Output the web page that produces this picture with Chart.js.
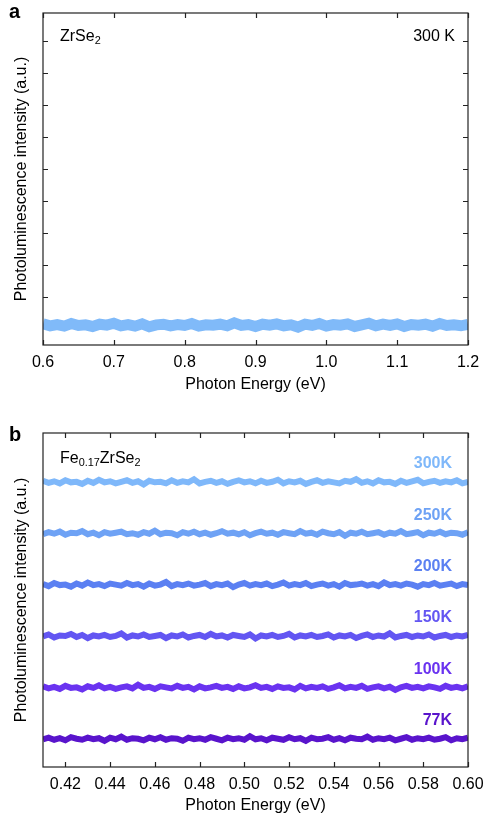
<!DOCTYPE html>
<html lang="en">
<head>
  <meta charset="UTF-8" />
  <title>Photoluminescence of ZrSe2 and Fe0.17ZrSe2</title>
  <script src="https://cdn.jsdelivr.net/npm/chart.js@4.4.1/dist/chart.umd.min.js"></script>
  <style>
    body { margin: 0; background: #fff; }
    #wrap { position: relative; width: 483px; height: 816px; }
    canvas { position: absolute; left: 0; }
    #panel-a { top: 0; }
    #panel-b { top: 416px; }
  </style>
</head>
<body>
  <div id="wrap">
    <canvas id="panel-a" width="483" height="400"></canvas>
    <canvas id="panel-b" width="483" height="400"></canvas>
  </div>

  <script>
    // panel a : ZrSe2 at 300 K
    const energyA = [
      0.60,0.61,0.62,0.63,0.64,0.65,0.66,0.67,0.68,0.69,
      0.70,0.71,0.72,0.73,0.74,0.75,0.76,0.77,0.78,0.79,
      0.80,0.81,0.82,0.83,0.84,0.85,0.86,0.87,0.88,0.89,
      0.90,0.91,0.92,0.93,0.94,0.95,0.96,0.97,0.98,0.99,
      1.00,1.01,1.02,1.03,1.04,1.05,1.06,1.07,1.08,1.09,
      1.10,1.11,1.12,1.13,1.14,1.15,1.16,1.17,1.18,1.19,
      1.20
    ];
    const plZrSe2 = [
      0.66,0.60,0.64,0.59,0.67,0.61,0.63,0.58,0.65,0.62,
      0.68,0.60,0.64,0.59,0.66,0.57,0.63,0.65,0.60,0.64,
      0.61,0.67,0.59,0.63,0.62,0.65,0.60,0.69,0.61,0.64,
      0.58,0.65,0.62,0.66,0.60,0.63,0.56,0.65,0.61,0.67,
      0.59,0.64,0.62,0.66,0.58,0.63,0.68,0.60,0.65,0.61,
      0.66,0.58,0.64,0.62,0.65,0.59,0.67,0.61,0.63,0.60,
      0.64
    ];
    const xTicksA = [0.6, 0.7, 0.8, 0.9, 1.0, 1.1, 1.2];
    const yTicksA = [1.5, 2.5, 3.5, 4.5, 5.5, 6.5, 7.5, 8.5, 9.5];

    // panel b : Fe0.17ZrSe2, curves offset per temperature
    const energyB = [
      0.4100,0.4125,0.4150,0.4175,0.4200,0.4225,0.4250,0.4275,0.4300,0.4325,
      0.4350,0.4375,0.4400,0.4425,0.4450,0.4475,0.4500,0.4525,0.4550,0.4575,
      0.4600,0.4625,0.4650,0.4675,0.4700,0.4725,0.4750,0.4775,0.4800,0.4825,
      0.4850,0.4875,0.4900,0.4925,0.4950,0.4975,0.5000,0.5025,0.5050,0.5075,
      0.5100,0.5125,0.5150,0.5175,0.5200,0.5225,0.5250,0.5275,0.5300,0.5325,
      0.5350,0.5375,0.5400,0.5425,0.5450,0.5475,0.5500,0.5525,0.5550,0.5575,
      0.5600,0.5625,0.5650,0.5675,0.5700,0.5725,0.5750,0.5775,0.5800,0.5825,
      0.5850,0.5875,0.5900,0.5925,0.5950,0.5975,0.6000
    ];
    const pl300K = [
      5.57,5.53,5.56,5.52,5.58,5.54,5.55,5.51,5.57,5.53,
      5.59,5.54,5.56,5.52,5.55,5.58,5.53,5.56,5.50,5.57,
      5.54,5.55,5.52,5.58,5.53,5.56,5.54,5.60,5.52,5.55,
      5.57,5.53,5.56,5.51,5.55,5.58,5.54,5.56,5.52,5.57,
      5.53,5.55,5.59,5.52,5.56,5.54,5.57,5.51,5.55,5.58,
      5.53,5.56,5.54,5.52,5.57,5.55,5.60,5.53,5.56,5.52,
      5.58,5.54,5.55,5.51,5.57,5.53,5.56,5.59,5.52,5.55,
      5.57,5.53,5.56,5.54,5.58,5.52,5.55
    ];
    const pl250K = [
      4.53,4.57,4.54,4.58,4.52,4.56,4.55,4.59,4.53,4.56,
      4.51,4.57,4.54,4.56,4.58,4.53,4.55,4.52,4.57,4.54,
      4.60,4.53,4.56,4.55,4.51,4.57,4.54,4.58,4.53,4.56,
      4.52,4.55,4.59,4.54,4.56,4.53,4.57,4.51,4.55,4.58,
      4.54,4.56,4.52,4.57,4.55,4.53,4.59,4.54,4.56,4.52,
      4.58,4.55,4.53,4.57,4.50,4.56,4.54,4.58,4.53,4.55,
      4.57,4.52,4.56,4.54,4.59,4.53,4.55,4.57,4.51,4.56,
      4.54,4.58,4.53,4.56,4.55,4.52,4.57
    ];
    const pl200K = [
      3.56,3.52,3.58,3.54,3.55,3.51,3.57,3.53,3.59,3.54,
      3.56,3.52,3.57,3.55,3.53,3.58,3.54,3.56,3.51,3.57,
      3.53,3.55,3.60,3.52,3.56,3.54,3.57,3.53,3.55,3.58,
      3.52,3.56,3.54,3.57,3.50,3.55,3.58,3.53,3.56,3.54,
      3.57,3.52,3.55,3.59,3.53,3.56,3.54,3.58,3.52,3.55,
      3.57,3.53,3.56,3.51,3.58,3.54,3.55,3.57,3.53,3.56,
      3.52,3.59,3.54,3.56,3.53,3.57,3.55,3.51,3.56,3.54,
      3.58,3.53,3.55,3.57,3.52,3.56,3.54
    ];
    const pl150K = [
      2.54,2.58,2.52,2.56,2.55,2.59,2.53,2.57,2.51,2.56,
      2.54,2.57,2.53,2.55,2.60,2.52,2.56,2.54,2.58,2.53,
      2.55,2.57,2.51,2.56,2.54,2.58,2.52,2.55,2.57,2.53,
      2.59,2.54,2.56,2.52,2.57,2.55,2.53,2.58,2.50,2.56,
      2.54,2.57,2.53,2.55,2.59,2.52,2.56,2.54,2.57,2.53,
      2.55,2.58,2.52,2.56,2.54,2.57,2.51,2.55,2.58,2.53,
      2.56,2.54,2.60,2.52,2.55,2.57,2.53,2.56,2.54,2.58,
      2.52,2.55,2.57,2.53,2.56,2.54,2.57
    ];
    const pl100K = [
      1.57,1.53,1.56,1.52,1.58,1.54,1.55,1.51,1.57,1.54,
      1.59,1.53,1.56,1.52,1.55,1.57,1.53,1.60,1.54,1.56,
      1.52,1.57,1.55,1.53,1.58,1.54,1.56,1.51,1.57,1.53,
      1.55,1.58,1.54,1.56,1.52,1.57,1.53,1.55,1.59,1.54,
      1.56,1.52,1.57,1.54,1.55,1.51,1.58,1.53,1.56,1.54,
      1.57,1.52,1.55,1.59,1.53,1.56,1.54,1.58,1.52,1.55,
      1.57,1.53,1.56,1.50,1.55,1.58,1.54,1.56,1.53,1.57,
      1.55,1.52,1.58,1.54,1.56,1.53,1.57
    ];
    const pl77K = [
      0.54,0.57,0.53,0.56,0.52,0.58,0.55,0.53,0.57,0.54,
      0.56,0.51,0.57,0.54,0.59,0.53,0.56,0.55,0.52,0.57,
      0.54,0.58,0.53,0.56,0.55,0.51,0.57,0.54,0.56,0.53,
      0.58,0.55,0.52,0.57,0.54,0.56,0.53,0.60,0.54,0.56,
      0.52,0.57,0.55,0.53,0.58,0.54,0.56,0.51,0.57,0.54,
      0.55,0.58,0.53,0.56,0.52,0.57,0.55,0.54,0.59,0.53,
      0.56,0.54,0.57,0.52,0.55,0.58,0.53,0.56,0.54,0.57,
      0.53,0.55,0.58,0.52,0.56,0.54,0.57
    ];
    const tempLabels = ['300K', '250K', '200K', '150K', '100K', '77K'];
    const tempColors = ['#7fb8fa', '#6ea2f5', '#5b80f2', '#6356f2', '#6a33f0', '#5914cc'];
    const xTicksB = [0.42, 0.44, 0.46, 0.48, 0.50, 0.52, 0.54, 0.56, 0.58, 0.60];

    const FONT = '"Liberation Sans", Arial, sans-serif';

    // box + inward ticks, like the original plotting program
    const frame = {
      id: 'frame',
      afterDatasetsDraw(chart, args, opts) {
        const { ctx, chartArea: a, scales: { x, y } } = chart;
        ctx.save();
        ctx.strokeStyle = '#222';
        ctx.lineWidth = 1.2;
        ctx.strokeRect(a.left, a.top, a.width, a.height);
        ctx.beginPath();
        x.ticks.forEach(t => {
          const px = Math.round(x.getPixelForValue(t.value)) + 0.5;
          ctx.moveTo(px, a.bottom); ctx.lineTo(px, a.bottom - 5);
          ctx.moveTo(px, a.top); ctx.lineTo(px, a.top + 5);
        });
        if (opts.yTicks) {
          y.ticks.forEach(t => {
            const py = Math.round(y.getPixelForValue(t.value)) + 0.5;
            ctx.moveTo(a.left, py); ctx.lineTo(a.left + 5, py);
            ctx.moveTo(a.right, py); ctx.lineTo(a.right - 5, py);
          });
        }
        ctx.stroke();
        ctx.restore();
      }
    };

    // text with subscripts: parts = [[text, isSub], ...]
    function drawRich(ctx, parts, x, y, size) {
      parts.forEach(([txt, sub]) => {
        ctx.font = (sub ? size * 0.68 : size) + 'px ' + FONT;
        ctx.fillText(txt, x, sub ? y + 3 : y);
        x += ctx.measureText(txt).width;
      });
    }

    const notes = {
      id: 'notes',
      afterDraw(chart, args, opts) {
        const { ctx, chartArea: a } = chart;
        ctx.save();
        ctx.fillStyle = '#000';
        ctx.textBaseline = 'alphabetic';
        ctx.textAlign = 'left';
        ctx.font = 'bold 20px ' + FONT;
        ctx.fillText(opts.letter, 9, opts.letterY);
        drawRich(ctx, opts.sample, a.left + 17, a.top + opts.sampleDy, 16);
        if (opts.temp) {
          ctx.textAlign = 'right';
          ctx.font = '16px ' + FONT;
          ctx.fillText(opts.temp, a.right - 13, a.top + opts.sampleDy);
        }
        if (opts.curveLabels) {
          const y = chart.scales.y;
          ctx.textAlign = 'right';
          ctx.textBaseline = 'middle';
          ctx.font = 'bold 16px ' + FONT;
          chart.data.datasets.forEach(ds => {
            const mean = ds.data.reduce((s, p) => s + p.y, 0) / ds.data.length;
            ctx.fillStyle = ds.borderColor;
            ctx.fillText(ds.label, a.right - 16, y.getPixelForValue(mean) - 18);
          });
        }
        ctx.restore();
      }
    };

    function axisTitle(text, pad) {
      return { display: true, text, color: '#000', font: { family: FONT, size: 16 }, padding: pad };
    }

    function xAxis(min, max, ticks, digits, height, pad) {
      return {
        type: 'linear', min, max,
        afterBuildTicks: s => { s.ticks = ticks.map(v => ({ value: v })); },
        afterFit: s => { s.height = height; s.paddingLeft = 0; s.paddingRight = 0; },
        ticks: { callback: v => v.toFixed(digits), color: '#000', font: { family: FONT, size: 16 },
                 padding: 8, maxRotation: 0, autoSkip: false },
        grid: { display: false, drawTicks: false },
        border: { display: false },
        title: axisTitle('Photon Energy (eV)', { top: 0, bottom: pad })
      };
    }

    function yAxis(min, max, ticks) {
      return {
        type: 'linear', min, max,
        afterBuildTicks: s => { s.ticks = ticks.map(v => ({ value: v })); },
        afterFit: s => { s.width = 43; },
        ticks: { display: false },
        grid: { display: false, drawTicks: false },
        border: { display: false },
        title: axisTitle('Photoluminescence intensity (a.u.)', { top: 12, bottom: 0 })
      };
    }

    new Chart(document.getElementById('panel-a'), {
      type: 'line',
      data: {
        datasets: [{
          label: '300 K',
          data: energyA.map((e, i) => ({ x: e, y: plZrSe2[i] })),
          borderColor: '#80baf9',
          borderWidth: 11,
          pointRadius: 0
        }]
      },
      options: {
        responsive: false,
        animation: false,
        layout: { padding: { top: 13, right: 15, left: 0, bottom: 0 } },
        scales: {
          x: xAxis(0.6, 1.2, xTicksA, 1, 55, 6),
          y: yAxis(0, 10.375, yTicksA)
        },
        plugins: {
          legend: { display: false },
          tooltip: { enabled: false },
          frame: { yTicks: true },
          notes: { letter: 'a', letterY: 18, sample: [['ZrSe', false], ['2', true]], sampleDy: 28, temp: '300 K' }
        }
      },
      plugins: [frame, notes]
    });

    const seriesB = [pl300K, pl250K, pl200K, pl150K, pl100K, pl77K];

    new Chart(document.getElementById('panel-b'), {
      type: 'line',
      data: {
        datasets: seriesB.map((vals, k) => ({
          label: tempLabels[k],
          data: energyB.map((e, i) => ({ x: e, y: vals[i] })),
          borderColor: tempColors[k],
          borderWidth: 6,
          pointRadius: 0
        }))
      },
      options: {
        responsive: false,
        animation: false,
        layout: { padding: { top: 17, right: 15, left: 0, bottom: 0 } },
        scales: {
          x: xAxis(0.41, 0.60, xTicksB, 2, 49, 1),
          y: yAxis(0, 6.5, [])
        },
        plugins: {
          legend: { display: false },
          tooltip: { enabled: false },
          frame: { yTicks: false },
          notes: { letter: 'b', letterY: 25, curveLabels: true,
                   sample: [['Fe', false], ['0.17', true], ['ZrSe', false], ['2', true]], sampleDy: 30 }
        }
      },
      plugins: [frame, notes]
    });
  </script>
</body>
</html>
